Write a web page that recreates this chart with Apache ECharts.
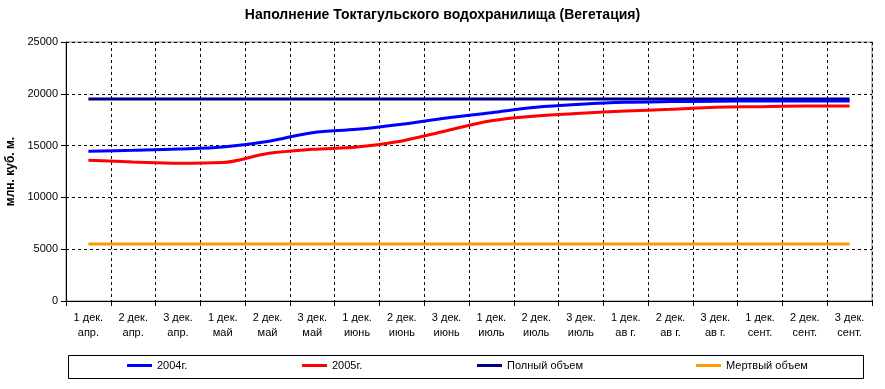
<!DOCTYPE html>
<html>
<head>
<meta charset="utf-8">
<script src="https://cdn.jsdelivr.net/npm/echarts@6/dist/echarts.min.js"></script>
<style>html,body{margin:0;padding:0;background:#fff}#c{width:885px;height:389px}</style>
</head>
<body>
<div id="c"></div>
<script>
const categories = ["1 дек.\nапр.","2 дек.\nапр.","3 дек.\nапр.","1 дек.\nмай","2 дек.\nмай","3 дек.\nмай","1 дек.\nиюнь","2 дек.\nиюнь","3 дек.\nиюнь","1 дек.\nиюль","2 дек.\nиюль","3 дек.\nиюль","1 дек.\nав г.","2 дек.\nав г.","3 дек.\nав г.","1 дек.\nсент.","2 дек.\nсент.","3 дек.\nсент."];
const s2004 = [14450,14550,14670,14870,15400,16250,16570,17060,17660,18180,18700,18990,19180,19250,19280,19300,19300,19300];
const s2005 = [13580,13420,13290,13360,14230,14640,14860,15450,16440,17400,17860,18120,18340,18500,18700,18760,18820,18830];
const fullVol = [19500,19500,19500,19500,19500,19500,19500,19500,19500,19500,19500,19500,19500,19500,19500,19500,19500,19500];
const deadVol = [5500,5500,5500,5500,5500,5500,5500,5500,5500,5500,5500,5500,5500,5500,5500,5500,5500,5500];
const names = ["2004г.","2005г.","Полный объем","Мертвый объем"];
const colors = ["#0000FF","#FF0000","#000080","#FF9900"];
const FONT = "Liberation Sans";

const chart = echarts.init(document.getElementById('c'), null, {renderer:'canvas'});
function lg(i, left){
  return {data:[names[i]], left:left, top:360, padding:0, icon:'rect', itemWidth:25, itemHeight:3,
    textStyle:{fontFamily:FONT,fontSize:11,color:'#000'}, selectedMode:false};
}
function ser(i, data, z){
  return {name:names[i], type:'line', data:data, smooth:0.35, symbol:'none', z:z,
    lineStyle:{color:colors[i], width:3}, itemStyle:{color:colors[i]}, animation:false};
}
chart.setOption({
  animation:false,
  title:{text:'Наполнение Токтагульского водохранилища (Вегетация)', left:'center', top:3,
    textStyle:{fontFamily:FONT,fontSize:14,fontWeight:'bold',color:'#000'}},
  grid:{left:66,right:13,top:42,bottom:88,show:true,borderColor:'#808080',borderWidth:1,backgroundColor:'#fff',
    containLabel:false,outerBoundsMode:'none'},
  graphic:[{type:'rect',shape:{x:68.5,y:355.5,width:795,height:23},style:{fill:'none',stroke:'#000',lineWidth:1},z:-1}],
  legend:[lg(0,127),lg(1,302),lg(2,477),lg(3,696)],
  xAxis:{type:'category',data:categories,boundaryGap:true,
    axisLine:{lineStyle:{color:'#000'}},
    axisTick:{show:true,length:5,lineStyle:{color:'#000'},interval:0},
    axisLabel:{fontFamily:FONT,fontSize:11,color:'#000',interval:0,lineHeight:15,margin:9},
    splitLine:{show:true,interval:0,lineStyle:{color:'#000',type:[3,3],width:1}}},
  yAxis:{type:'value',min:0,max:25000,interval:5000,
    name:'млн. куб. м.',nameLocation:'middle',nameGap:42,nameRotate:90,
    nameTextStyle:{fontFamily:FONT,fontSize:12,fontWeight:'bold',color:'#000'},
    axisLine:{show:true,lineStyle:{color:'#000'}},
    axisTick:{show:true,length:5,lineStyle:{color:'#000'}},
    axisLabel:{fontFamily:FONT,fontSize:11,color:'#000',margin:8,formatter:function(v){return String(v);}},
    splitLine:{show:true,lineStyle:{color:'#000',type:[3,3],width:1}}},
  series:[ser(0,s2004,3),ser(1,s2005,4),ser(2,fullVol,2),ser(3,deadVol,2)]
});
</script>
</body>
</html>
